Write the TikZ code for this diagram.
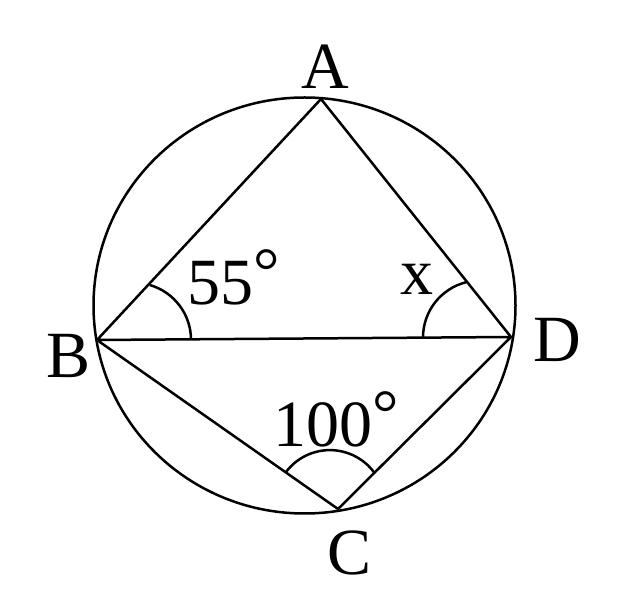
\documentclass[tikz,border=0pt]{standalone}
\usepackage{fontspec}
\setmainfont{Liberation Serif}
\usepackage{tikz}
\usetikzlibrary{positioning}
\tikzset{
	every path/.style={line width=2.5pt, line join=round},
	etiqueta/.style={anchor=base west, inner sep=0pt, font=\fontsize{66}{66}\selectfont}
}
\newcommand{\grado}{\raisebox{0.18em}{°}}

\begin{document}
\begin{tikzpicture}[x=1pt, y=1pt,
	marcoangulo/.style={line width=2.5pt},
	]
	\useasboundingbox (0,0) rectangle (623,599);
	
	%Points
	\coordinate (centro) at (304.5,293.5);
	\coordinate (A) at (321,500);
	\coordinate (B) at (97,259);
	\coordinate (D) at (511,262);
	\coordinate (C) at (338,90);
	\coordinate (arcoB) at (191,259.2);
	\coordinate (arcoD) at (423,261.5);
	\coordinate (arcoC) at (286,127);
	
	%Nodes
	\node[etiqueta] (etA)  at (300,510) {A};
	\node[etiqueta] (etB)  at (45,221)  {B};
	\node[etiqueta] (etD)  at (532,237) {D};
	\node[etiqueta] (etC)  at (326,24)  {C};
	\node[etiqueta] (et55) at (186,294) {55\grado};
	\node[etiqueta] (etx)  at (399,304) {x};
	\node[etiqueta] (et100) at (272,152) {100\grado};
	
	%Circle
	\draw (centro) ellipse [x radius=211, y radius=208];
	
	%Lines
	\draw (B) -- (A) -- (D) -- (C) -- (B) -- (D);
	
	%Angles
	\draw[marcoangulo] (arcoB) arc[start angle=0, end angle=74, radius=57];
	\draw[marcoangulo] (arcoD) arc[start angle=180, end angle=104, radius=57];
	\draw[marcoangulo] (arcoC) arc[start angle=143, end angle=35, radius=55];
\end{tikzpicture}
\end{document}
